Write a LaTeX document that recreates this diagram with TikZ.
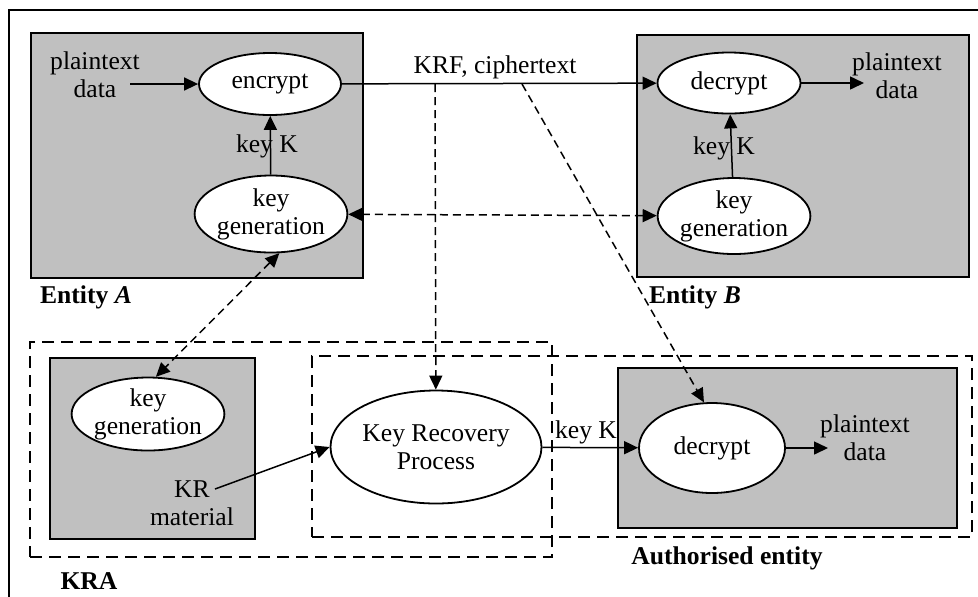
\documentclass[tikz,border=0pt]{standalone}
\usepackage{fontspec}
\setmainfont{Liberation Serif}
\usepackage{tikz}
\usetikzlibrary{arrows.meta,shapes.geometric}
\definecolor{boxgray}{RGB}{192,192,192}

\begin{document}
\begin{tikzpicture}[x=0.5pt,y=-0.5pt,font=\fontsize{12.8}{14}\selectfont]
	\tikzstyle{box}=[rectangle,draw=black,fill=boxgray,line width=0.9pt,inner sep=0pt]
	\tikzstyle{zone}=[rectangle,draw=black,line width=1pt,dash pattern=on 6pt off 3.5pt,inner sep=0pt]
	\tikzstyle{proc}=[ellipse,draw=black,fill=white,line width=0.9pt,inner sep=0pt,align=center]
	\tikzstyle{txt}=[align=center,inner sep=1pt]
	\tikzstyle{tag}=[inner sep=1pt,font=\fontsize{12.8}{14}\selectfont\bfseries]
	\tikzstyle{link}=[line width=0.75pt,-{Triangle[length=7pt,width=6.5pt]}]
	\tikzstyle{dlink}=[link,dash pattern=on 4pt off 2.5pt]
	\tikzstyle{both}=[dlink,{Triangle[length=7pt,width=6.5pt]}-{Triangle[length=7pt,width=6.5pt]}]
	\useasboundingbox (0,0) rectangle (978,596);
	% outer frame
	\draw[line width=0.9pt] (9,600) |- (980,10);
	% dashed areas
	\node[zone,minimum width=261pt,minimum height=107.5pt] (kra) at (291,449.5) {};
	\node[zone,minimum width=330pt,minimum height=90.5pt] (auth) at (642,446.5) {};
	% grey boxes
	\node[box,minimum width=166pt,minimum height=122.5pt] (boxA) at (197,155.5) {};
	\node[box,minimum width=166pt,minimum height=121pt] (boxB) at (803,156) {};
	\node[box,minimum width=102.5pt,minimum height=90.5pt] (boxK) at (152.5,448.5) {};
	\node[box,minimum width=169.5pt,minimum height=80pt] (boxC) at (787.5,448) {};
	% processes
	\node[proc,minimum width=71pt,minimum height=31pt] (encA) at (270,84) {encrypt};
	\node[proc,minimum width=72.5pt,minimum height=38.5pt] (kgA) at (271,214) {key\\generation};
	\node[proc,minimum width=71.5pt,minimum height=30.5pt] (decB) at (729,83) {decrypt};
	\node[proc,minimum width=74pt,minimum height=38pt] (kgB) at (734,216) {key\\generation};
	\node[proc,minimum width=70pt,minimum height=36.5pt] (kgK) at (148,414) {key\\generation};
	\node[proc,minimum width=105.5pt,minimum height=56.5pt] (krp) at (436,447) {Key Recovery\\Process};
	\node[proc,minimum width=73pt,minimum height=45pt] (decC) at (712,448) {decrypt};
	% texts
	\node[txt] (ptA) at (95,75) {plaintext\\data};
	\node[txt] (ptB) at (897,76) {plaintext\\data};
	\node[txt] (ptC) at (865,438) {plaintext\\data};
	\node[txt] (krm) at (192,503) {KR\\material};
	\node[txt] (keyA) at (267,146) {key K};
	\node[txt] (keyB) at (724,148) {key K};
	\node[txt] (keyC) at (586,432) {key K};
	\node[txt] (krf) at (495,67) {KRF, ciphertext};
	\node[tag] (labA) at (86,297) {Entity \textit{A}};
	\node[tag] (labB) at (695,297) {Entity \textit{B}};
	\node[tag] (labC) at (727,558) {Authorised entity};
	\node[tag] (labK) at (89,581) {KRA};
	% free ends
	\coordinate (inA) at (130,84);
	\coordinate (outB) at (864,83);
	\coordinate (outC) at (828,448);
	\coordinate (tapK) at (435,84);
	\coordinate (tapC) at (522,84);
	\coordinate (mat) at (215,489);
	% connectors
	\draw[link] (inA) -- (encA);
	\draw[link] (encA) -- (decB);
	\draw[link] (kgA) -- (encA);
	\draw[link] (decB) -- (outB);
	\draw[link] (kgB) -- (decB);
	\draw[both] (kgA) -- (kgB);
	\draw[both] (kgA.282) -- (kgK.78);
	\draw[dlink] (tapK) -- (krp);
	\draw[dlink] (tapC) -- (decC.100);
	\draw[link] (mat) -- (krp.west);
	\draw[link] (krp) -- (decC);
	\draw[link] (decC) -- (outC);
\end{tikzpicture}
\end{document}
